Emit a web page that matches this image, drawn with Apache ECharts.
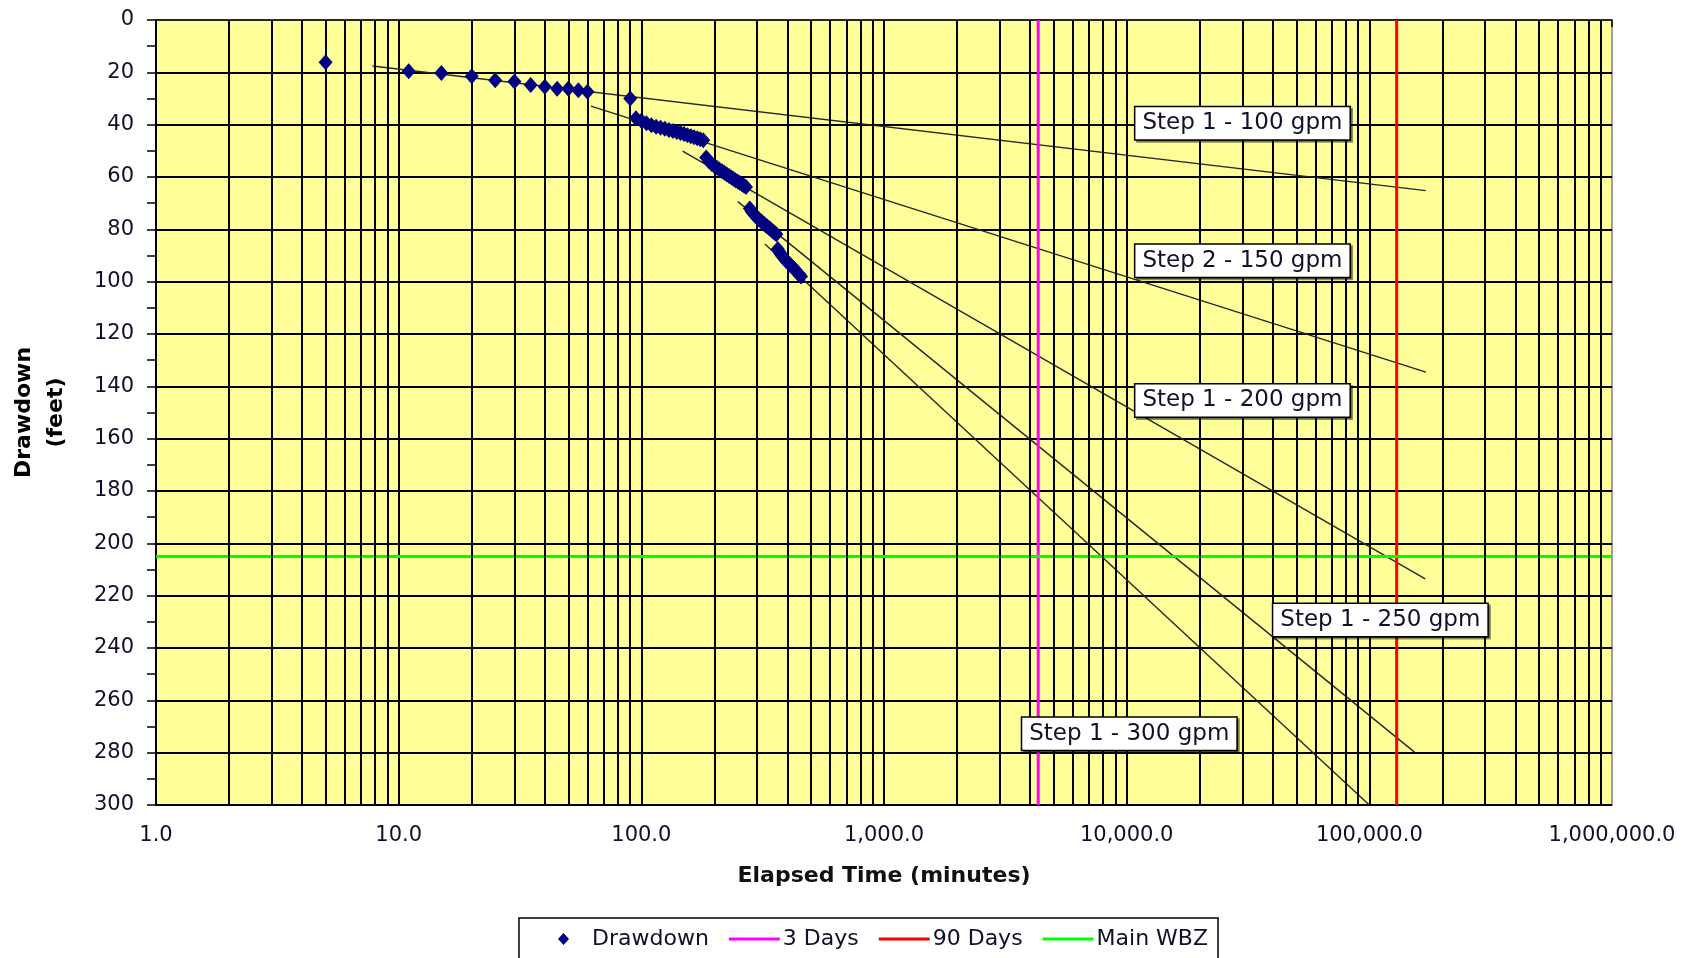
<!DOCTYPE html>
<html>
<head>
<meta charset="utf-8">
<script src="https://cdn.jsdelivr.net/npm/echarts@6/dist/echarts.min.js"></script>
<style>html,body{margin:0;padding:0;background:#fff;}#c{width:1697px;height:958px;}</style>
</head>
<body>
<div id="c"></div>
<script>
// ---- Data ----
const step1Time = [5, 11, 15, 20, 25, 30, 35, 40, 45, 50, 55, 60, 90];
const step1Drawdown = [16.1, 19.6, 20.3, 21.5, 23.0, 23.5, 24.8, 25.5, 26.3, 26.3, 26.8, 27.4, 30.0];
const step2Time = [95, 100, 105, 110, 115, 120, 125, 130, 135, 140, 145, 150, 155, 160, 165, 170, 175, 180];
const step2Drawdown = [37.5, 38.5, 39.5, 40.2, 40.8, 41.2, 41.6, 42.0, 42.4, 42.8, 43.2, 43.6, 44.0, 44.4, 44.8, 45.2, 45.6, 46.0];
const step3Time = [185, 190, 195, 200, 205, 210, 215, 220, 225, 230, 235, 240, 245, 250, 255, 260, 265, 270];
const step3Drawdown = [52.5, 54.0, 55.0, 55.8, 56.5, 57.2, 57.8, 58.4, 59.0, 59.6, 60.2, 60.8, 61.3, 61.8, 62.3, 62.8, 63.3, 63.8];
const step4Time = [280, 285, 290, 295, 300, 305, 310, 315, 320, 325, 330, 335, 340, 345, 350, 355, 360];
const step4Drawdown = [72.0, 73.2, 74.0, 74.8, 75.5, 76.1, 76.7, 77.3, 77.9, 78.4, 78.9, 79.4, 79.9, 80.4, 80.9, 81.4, 81.9];
const step5Time = [365, 370, 375, 380, 385, 390, 395, 400, 405, 410, 415, 420, 425, 430, 435, 440, 445, 450, 455];
const step5Drawdown = [87.5, 88.6, 89.4, 90.1, 90.8, 91.4, 92.0, 92.5, 93.0, 93.5, 94.0, 94.5, 95.0, 95.5, 96.0, 96.5, 97.0, 97.5, 98.0];

// trend (straight-line fits) start/end points
const trendStartTime = [7.8, 62, 148, 250, 323];
const trendStartDrawdown = [17.6, 32.9, 50.1, 69.4, 85.6];
const trendEndTime = [171000, 171000, 170000, 153500, 100000];
const trendEndDrawdown = [65.2, 134.6, 213.6, 279.8, 300];

// annotation labels
const labelTexts = ['Step 1 - 100 gpm', 'Step 2 - 150 gpm', 'Step 1 - 200 gpm', 'Step 1 - 250 gpm', 'Step 1 - 300 gpm'];
const labelTime = [30000, 30000, 30000, 111000, 10250];
const labelDrawdown = [39.5, 92, 145.4, 229.3, 272.8];

// reference lines
const threeDaysMinutes = 4320;
const ninetyDaysMinutes = 129600;
const mainWBZ = 205;

const xMin = 1, xMax = 1000000;
const yMin = 0, yMax = 300;
const yTickInterval = 20;
const legendNames = ['Drawdown', '3 Days', '90 Days', 'Main WBZ'];

// ---- Build ----
const FONT = 'DejaVu Sans';
const TXT = '#10102a';
const allTime = [].concat(step1Time, step2Time, step3Time, step4Time, step5Time);
const allDD = [].concat(step1Drawdown, step2Drawdown, step3Drawdown, step4Drawdown, step5Drawdown);
const drawdownData = allTime.map((t, i) => [t, allDD[i]]);

const minorGrid = [];
for (let d = 1; d < xMax; d *= 10) {
  for (let k = 2; k <= 9; k++) minorGrid.push({ xAxis: k * d });
}

function fmtX(v) {
  const r = Math.round(v);
  return r.toLocaleString('en-US', { minimumFractionDigits: 1, maximumFractionDigits: 1 });
}

const LINE_ICON = 'path://M0,0H51V3H0Z';
const DIAMOND_ICON = 'path://M0,6L0.01,6M51,6L50.99,6M25.5,0L31,6L25.5,12L20,6Z';

const series = [];
series.push({
  name: 'minorgrid', type: 'line', data: [], z: 1, silent: true,
  markLine: {
    silent: true, symbol: ['none', 'none'], animation: false,
    label: { show: false },
    lineStyle: { color: '#000', type: 'solid', width: 2 },
    data: minorGrid
  }
});
for (let i = 0; i < trendStartTime.length; i++) {
  series.push({
    name: 'trend' + i, type: 'line', symbol: 'none', z: 3, silent: true,
    lineStyle: { color: '#262626', width: 1.4 },
    data: [[trendStartTime[i], trendStartDrawdown[i]], [trendEndTime[i], trendEndDrawdown[i]]]
  });
}
series.push({
  name: '3 Days', type: 'line', symbol: 'none', z: 4,
  lineStyle: { color: '#FF00FF', width: 3 }, itemStyle: { color: '#FF00FF' },
  data: [[threeDaysMinutes, yMin], [threeDaysMinutes, yMax]]
});
series.push({
  name: '90 Days', type: 'line', symbol: 'none', z: 4,
  lineStyle: { color: '#FF0000', width: 3 }, itemStyle: { color: '#FF0000' },
  data: [[ninetyDaysMinutes, yMin], [ninetyDaysMinutes, yMax]]
});
series.push({
  name: 'Main WBZ', type: 'line', symbol: 'none', z: 4,
  lineStyle: { color: '#00FF00', width: 3 }, itemStyle: { color: '#00FF00' },
  data: [[xMin, mainWBZ], [xMax, mainWBZ]]
});
series.push({
  name: 'Drawdown', type: 'scatter', symbol: 'diamond', symbolSize: [14, 16], z: 5,
  itemStyle: { color: '#000080', opacity: 1 },
  data: drawdownData
});
series.push({
  name: 'labels', type: 'scatter', symbolSize: 1, z: 10, silent: true,
  itemStyle: { color: 'rgba(0,0,0,0)', opacity: 1 },
  data: labelTime.map((t, i) => [t, labelDrawdown[i], labelTexts[i]]),
  label: {
    show: true, position: 'inside', formatter: p => p.data[2],
    fontFamily: FONT, fontSize: 23, color: TXT, opacity: 1,
    backgroundColor: '#ffffff', borderColor: '#000', borderWidth: 1.5,
    padding: [3, 7, 3, 7], lineHeight: 26,
    shadowColor: 'rgba(0,0,0,0.45)', shadowOffsetX: 2, shadowOffsetY: 2, shadowBlur: 0
  }
});

const option = {
  backgroundColor: '#fff',
  animation: false,
  textStyle: { fontFamily: FONT },
  grid: {
    left: 151, right: 85, top: 20, bottom: 153,
    show: true, backgroundColor: '#FFFF99', borderColor: '#808080', borderWidth: 1.5
  },
  legend: {
    data: [
      { name: 'Drawdown', icon: DIAMOND_ICON, itemStyle: { color: '#000080', borderWidth: 0 } },
      { name: '3 Days', icon: LINE_ICON, itemStyle: { color: '#FF00FF' } },
      { name: '90 Days', icon: LINE_ICON, itemStyle: { color: '#FF0000' } },
      { name: 'Main WBZ', icon: LINE_ICON, itemStyle: { color: '#00FF00' } }
    ],
    left: 519, top: 918,
    orient: 'horizontal',
    itemWidth: 51, itemHeight: 12, itemGap: 20,
    symbolKeepAspect: true,
    padding: [10, 10, 30, 19],
    borderColor: '#000', borderWidth: 1.5, backgroundColor: '#fff',
    textStyle: { fontFamily: FONT, fontSize: 22, color: TXT, padding: [0, 0, 0, -2] },
    selectedMode: false
  },
  xAxis: {
    type: 'log', logBase: 10, min: xMin, max: xMax, splitNumber: 6,
    name: 'Elapsed Time (minutes)', nameLocation: 'middle', nameGap: 60,
    nameTextStyle: { fontFamily: FONT, fontSize: 22, fontWeight: 'bold', color: '#111' },
    axisLine: { show: true, lineStyle: { color: '#000', width: 1.5 } },
    axisTick: { show: true, length: 7, lineStyle: { color: '#000', width: 1.5 } },
    axisLabel: { fontFamily: FONT, fontSize: 21, color: TXT, margin: 20, formatter: fmtX },
    splitLine: { show: true, showMaxLine: false, lineStyle: { color: '#000', width: 2 } },
    minorTick: { show: false }, minorSplitLine: { show: false }
  },
  yAxis: {
    type: 'value', inverse: true, min: yMin, max: yMax, interval: yTickInterval,
    name: 'Drawdown\n(feet)', nameLocation: 'middle', nameGap: 84,
    nameTextStyle: { fontFamily: FONT, fontSize: 22, fontWeight: 'bold', color: '#000', lineHeight: 32, align: 'center' },
    axisLine: { show: true, lineStyle: { color: '#000', width: 1.5 } },
    axisTick: { show: true, length: 9, lineStyle: { color: '#000', width: 1.5 } },
    minorTick: { show: true, splitNumber: 2, length: 9, lineStyle: { color: '#000', width: 1.5 } },
    axisLabel: { fontFamily: FONT, fontSize: 21, color: TXT, margin: 22 },
    splitLine: { show: true, showMinLine: false, lineStyle: { color: '#000', width: 2 } }
  },
  series: series
};

const chart = echarts.init(document.getElementById('c'), null, { renderer: 'canvas' });
chart.setOption(option);
</script>
</body>
</html>
